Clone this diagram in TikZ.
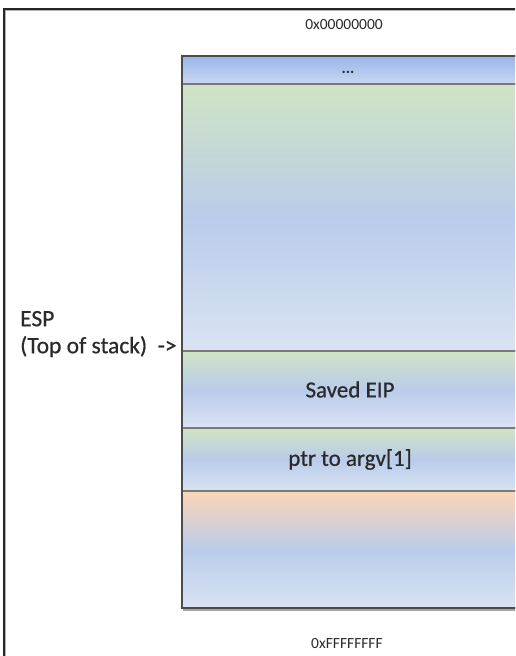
\documentclass[tikz,border=0pt]{standalone}
\usepackage{fontspec}
\setmainfont{Carlito}
\newfontfamily\semifont[FakeBold=0.6]{Carlito}
\definecolor{cgreen}{HTML}{D0E4C4}
\definecolor{cblue}{HTML}{BACCEA}
\definecolor{clight}{HTML}{D9E3F3}
\definecolor{corange}{HTML}{FCD5B6}
\definecolor{cdtop}{HTML}{98B5EA}
\definecolor{cdbot}{HTML}{CBD8F1}
\definecolor{txt}{HTML}{2A2A2A}
\definecolor{sepgray}{HTML}{7A7A7A}
\tikzset{
  cell/.style={rectangle, anchor=north west, minimum width=336pt, inner sep=0pt, outer sep=0pt, draw=sepgray, line width=1.3pt, text=txt, font=\semifont\fontsize{23}{26}\selectfont},
  gcell/.style={cell, top color=cgreen, bottom color=clight, middle color=cblue},
  addr/.style={text=txt, font=\fontsize{15.5}{17}\selectfont, inner sep=0pt},
}
\begin{document}
\begin{tikzpicture}[x=1pt,y=-1pt]
\clip (0,0) rectangle (515,656);
\fill[white] (0,0) rectangle (515,656);
% outer frame
\draw[black!85, line width=1.6pt] (4,660) -- (4,9) -- (520,9);
\draw[black!30, line width=1pt] (5.8,660) -- (5.8,10.8) -- (520,10.8);
% stack cells
\node[cell, top color=cdtop, bottom color=cdbot, minimum height=28pt] (dots) at (182,56) {};
\node[font=\bfseries\fontsize{16}{16}\selectfont, text=txt] (dotstext) at (348,72) {...};
\node[gcell, minimum height=267pt] (big) at (182,84) {};
\node[gcell, minimum height=77pt] (eip) at (182,351) {Saved EIP};
\node[gcell, minimum height=63pt] (argv) at (182,428) {ptr to argv[1]};
\node[cell, top color=corange, bottom color=clight, middle color=cblue, minimum height=117pt] (stk) at (182,491) {};
% outer box border
\draw[black!35, line width=2pt] ([xshift=1pt,yshift=-1.5pt]stk.south west) -- ([xshift=1pt,yshift=-1.5pt]stk.south east);
\draw[black!70, line width=1.8pt] (dots.north east) -- (dots.north west) -- (stk.south west) -- (stk.south east);
% addresses
\node[addr] (top) at (344,25) {0x00000000};
\node[addr] (bot) at (347,644) {0xFFFFFFFF};
% ESP label
\node[anchor=west, align=left, text=txt, font=\semifont\fontsize{23.5}{27}\selectfont, inner sep=0pt] (esp) at (20,334) {ESP\\(Top of stack)\ \ ->};
\end{tikzpicture}
\end{document}
